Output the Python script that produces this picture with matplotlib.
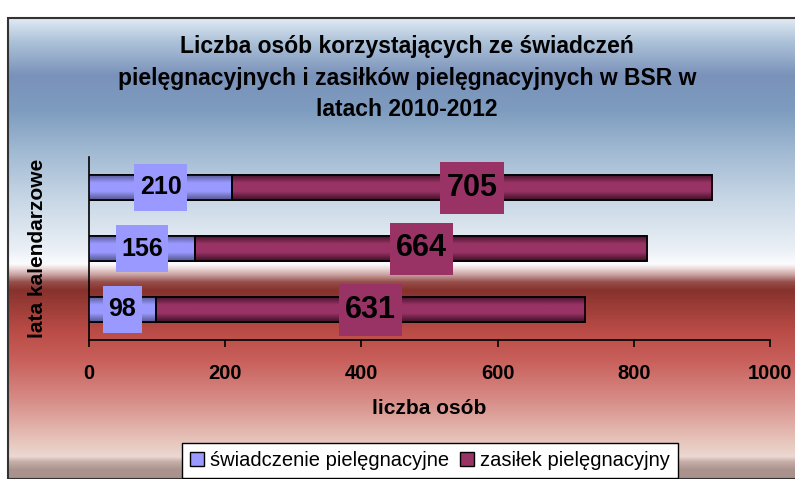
import numpy as np
import matplotlib
matplotlib.use('Agg')
import matplotlib.pyplot as plt
from matplotlib.path import Path
from matplotlib.patches import Rectangle, Patch
from matplotlib.colors import LinearSegmentedColormap

plt.rcParams['font.family'] = ['Liberation Sans', 'DejaVu Sans']

# dane
lata = ['2010', '2011', '2012']
swiadczenie = [98, 156, 210]
zasilek = [631, 664, 705]

tytul = ('Liczba osób korzystających ze świadczeń\n'
         'pielęgnacyjnych i zasiłków pielęgnacyjnych w BSR w\n'
         'latach 2010-2012')
seria1 = 'świadczenie pielęgnacyjne'
seria2 = 'zasiłek pielęgnacyjny'
xticks = [0, 200, 400, 600, 800, 1000]

W, H = 795, 479
fig = plt.figure(figsize=(W / 100, H / 100), dpi=100)

# tło z gradientem (jak w Excelu)
bg = fig.add_axes([8 / W, 0, 1 - 8 / W, 1 - 18 / H])
bg.set_axis_off()
stops = [
    (18, (225, 234, 243)), (40, (175, 196, 218)), (75, (122, 146, 186)),
    (110, (126, 156, 191)), (150, (160, 185, 210)), (200, (200, 215, 230)),
    (250, (235, 240, 246)), (264, (252, 252, 253)), (268, (238, 222, 222)),
    (275, (200, 160, 158)), (282, (150, 80, 75)), (290, (135, 50, 45)),
    (330, (185, 75, 70)), (360, (200, 95, 90)), (400, (215, 140, 135)),
    (440, (230, 195, 185)), (457, (236, 216, 210)), (462, (200, 175, 170)),
    (470, (172, 148, 142)), (479, (170, 145, 140)),
]
rows = np.arange(18, 480)
ys = [s[0] for s in stops]
grad = np.stack([np.interp(rows, ys, [s[1][c] for s in stops]) for c in range(3)], axis=1) / 255
bg.imshow(grad[:, None, :], aspect='auto', extent=[0, 1, 0, 1], interpolation='bilinear')
bg.add_patch(Rectangle((0, 0), 1.2, 1, fill=False, edgecolor='#333333', lw=1.5,
                       transform=bg.transAxes, clip_on=False))


class PadBox:
    """prostokąt z osobnym marginesem w poziomie i w pionie"""
    def __init__(self, px, py):
        self.px, self.py = px, py

    def __call__(self, x0, y0, width, height, mutation_size):
        px = self.px * mutation_size
        py = self.py * mutation_size
        x0, y0 = x0 - px, y0 - py
        x1, y1 = x0 + width + 2 * px, y0 + height + 2 * py
        return Path([(x0, y0), (x1, y0), (x1, y1), (x0, y1), (x0, y0)], closed=True)


ax = fig.add_axes([89 / W, 1 - 340 / H, 681 / W, 183 / H])
ax.patch.set_alpha(0)

pos = np.arange(len(lata))
kol1, kol2 = '#9999ff', '#993366'
b1 = ax.barh(pos, swiadczenie, height=0.41, color=kol1, edgecolor='black', lw=1.2, zorder=3)
b2 = ax.barh(pos, zasilek, left=swiadczenie, height=0.41, color=kol2, edgecolor='black', lw=1.2, zorder=3)

# cieniowanie słupków (walcowy efekt)
cm1 = LinearSegmentedColormap.from_list('c1', ['#55558f', '#9999ff', '#9999ff', '#55558f'])
cm2 = LinearSegmentedColormap.from_list('c2', ['#3d1025', '#993366', '#993366', '#3d1025'])
for bars, cm in ((b1, cm1), (b2, cm2)):
    for b in bars:
        x, y, w, h = b.get_x(), b.get_y(), b.get_width(), b.get_height()
        im = ax.imshow(np.linspace(0, 1, 64)[:, None], cmap=cm, aspect='auto',
                       extent=[x, x + w, y, y + h], zorder=3.5, interpolation='bilinear')
        im.set_clip_path(b)
        ax.add_patch(Rectangle((x, y), w, h, fill=False, edgecolor='black', lw=1.2, zorder=4))

for i in range(len(lata)):
    ax.text(swiadczenie[i] / 2, pos[i], str(swiadczenie[i]), ha='center', va='center',
            fontsize=18, fontweight='bold', zorder=6,
            bbox=dict(boxstyle=PadBox(0.22, 0.45), fc=kol1, ec='none'))
    ax.text(swiadczenie[i] + zasilek[i] / 2, pos[i], str(zasilek[i]), ha='center', va='center',
            fontsize=22, fontweight='bold', zorder=6,
            bbox=dict(boxstyle=PadBox(0.2, 0.36), fc=kol2, ec='none'))

ax.set_xlim(0, 1000)
ax.set_ylim(-0.5, 2.5)
ax.set_xticks(xticks)
ax.set_xticklabels([str(t) for t in xticks], fontsize=14.5, fontweight='bold')
ax.tick_params(axis='x', direction='out', length=5, width=1.2, pad=12)
ax.set_yticks([])
for s in ('top', 'right'):
    ax.spines[s].set_visible(False)
ax.spines['left'].set_linewidth(1.2)
ax.spines['bottom'].set_linewidth(1.2)
ax.set_xlabel('liczba osób', fontsize=15, fontweight='bold', labelpad=12)
ax.set_ylabel('lata kalendarzowe', fontsize=15, fontweight='bold', labelpad=30)

fig.text(407 / W, 1 - 78 / H, tytul, ha='center', va='center', fontsize=16.5,
         fontweight='bold', linespacing=1.5)

handles = [Patch(fc=kol1, ec='black'), Patch(fc=kol2, ec='black')]
fig.legend(handles, [seria1, seria2], loc='upper center', bbox_to_anchor=(430 / W, 1 - 443 / H),
           ncol=2, fontsize=14.5, frameon=True, fancybox=False, edgecolor='black',
           framealpha=1, handlelength=0.7, handleheight=0.7, handletextpad=0.3,
           columnspacing=0.5, borderpad=0.4, borderaxespad=0)

fig.savefig('out.png', dpi=100)
